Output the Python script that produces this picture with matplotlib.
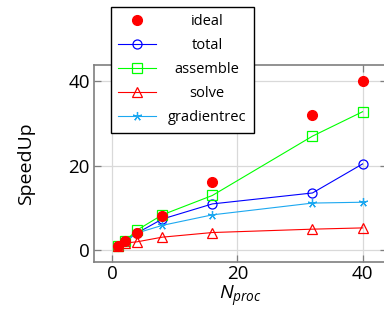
import matplotlib
import matplotlib.pyplot as plt

matplotlib.use("Agg")

plt.rcParams["font.family"] = ["Open Sans", "DejaVu Sans"]
plt.rcParams["mathtext.fontset"] = "custom"
plt.rcParams["mathtext.it"] = "Open Sans:italic"
plt.rcParams["mathtext.rm"] = "Open Sans"

# number of processes
nproc = [1, 2, 4, 8, 16, 32, 40]

ideal = [1, 2, 4, 8, 16, 32, 40]
total = [1, 2, 4.0, 7.3, 10.9, 13.5, 20.4]
assemble = [1, 2, 4.7, 8.3, 12.9, 27.0, 32.8]
solve = [1, 1.6, 1.9, 3.0, 4.1, 4.9, 5.2]
gradientrec = [1, 1.9, 4.0, 5.8, 8.3, 11.1, 11.3]

fig = plt.figure(figsize=(3.84, 3.24), dpi=100)
ax = fig.add_axes([94 / 384, 62 / 324, 293 / 384, 197 / 324])

common = dict(lw=0.8, markersize=6.5, markerfacecolor="none", markeredgewidth=0.9)
ax.plot(nproc, ideal, "o", color="#ff0000", markersize=7, label="ideal", zorder=5)
ax.plot(nproc, total, "-o", color="#0000ff", label="total", **common)
ax.plot(nproc, assemble, "-s", color="#00ff00", label="assemble", **common)
ax.plot(nproc, solve, "-^", color="#ff0000", label="solve", **common)
ax.plot(nproc, gradientrec, "-", marker=(5, 2, 0), color="#1ca8f0",
        label="gradientrec", **common)

ax.set_xlim(-2.9, 43.9)
ax.set_ylim(-2.9, 43.9)
ax.set_xticks([0, 20, 40])
ax.set_yticks([0, 20, 40])
ax.grid(True, color="#d9d9d9", lw=0.9)
ax.set_axisbelow(True)
for sp in ax.spines.values():
    sp.set_color("#7f7f7f")
    sp.set_linewidth(1.2)
ax.tick_params(direction="in", length=5, color="#7f7f7f", width=0.9,
               top=True, right=True, labelsize=13.5, pad=3)
ax.tick_params(axis="x", pad=2)

ax.set_xlabel(r"$N_{proc}$", fontsize=14, labelpad=1)
ax.set_ylabel("SpeedUp", fontsize=14, labelpad=24)

leg = fig.legend(loc="upper left", bbox_to_anchor=(111 / 384, 1 - 7 / 324),
                 fontsize=10.5, numpoints=1, handlelength=2.6, labelspacing=0.62,
                 borderpad=0.5, handletextpad=0.8, fancybox=False,
                 framealpha=1, edgecolor="black", borderaxespad=0)
leg.get_frame().set_linewidth(1.0)

# center labels in their column, like pgfplots does
fig.canvas.draw()
renderer = fig.canvas.get_renderer()
widths = [t.get_window_extent(renderer).width for t in leg.get_texts()]
wmax = max(widths)
for t, w in zip(leg.get_texts(), widths):
    t.set_x((wmax - w) / 2)

fig.savefig("out.png", dpi=100)
